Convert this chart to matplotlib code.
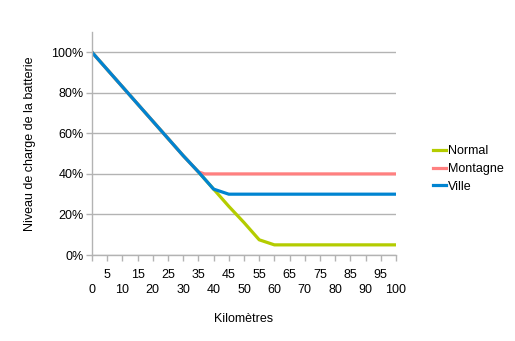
import matplotlib
matplotlib.use("Agg")
import matplotlib.pyplot as plt
from matplotlib.ticker import FixedLocator, PercentFormatter

# battery level (%) against distance (km)
km_normal = [0, 5, 10, 15, 20, 25, 30, 35, 40, 45, 50, 55, 60, 65, 70, 75, 80, 85, 90, 95, 100]
normal = [100, 91.5, 83, 74.5, 66, 57.5, 49, 41, 32.5, 24, 16, 7.5, 5, 5, 5, 5, 5, 5, 5, 5, 5]

km_montagne = [0, 5, 10, 15, 20, 25, 30, 35, 37, 40, 45, 50, 55, 60, 65, 70, 75, 80, 85, 90, 95, 100]
montagne = [100, 91.5, 83, 74.5, 66, 57.5, 49, 41, 40, 40, 40, 40, 40, 40, 40, 40, 40, 40, 40, 40, 40, 40]

km_ville = [0, 5, 10, 15, 20, 25, 30, 35, 40, 45, 50, 55, 60, 65, 70, 75, 80, 85, 90, 95, 100]
ville = [100, 91.5, 83, 74.5, 66, 57.5, 49, 41, 32.5, 30, 30, 30, 30, 30, 30, 30, 30, 30, 30, 30, 30]

y_ticks = [0, 20, 40, 60, 80, 100]
x_ticks_low = [0, 10, 20, 30, 40, 50, 60, 70, 80, 90, 100]
x_ticks_high = [5, 15, 25, 35, 45, 55, 65, 75, 85, 95]

plt.rcParams["font.family"] = ["Liberation Sans", "DejaVu Sans"]
plt.rcParams["font.size"] = 9

GRID = "#b3b3b3"

fig = plt.figure(figsize=(5.15, 3.41), dpi=100)
ax = fig.add_axes([92 / 515, 1 - 255 / 341, 304 / 515, 223 / 341])

ax.plot(km_normal, normal, color="#b4cc00", lw=2.3, label="Normal")
ax.plot(km_montagne, montagne, color="#ff8080", lw=2.3, label="Montagne")
ax.plot(km_ville, ville, color="#0084d1", lw=2.3, label="Ville")

ax.set_xlim(0, 100)
ax.set_ylim(0, 110)

ax.yaxis.set_major_locator(FixedLocator(y_ticks))
ax.yaxis.set_major_formatter(PercentFormatter(decimals=0))
ax.grid(axis="y", color=GRID, lw=1)
ax.set_axisbelow(True)

# staggered x labels: multiples of 10 on the lower row
ax.xaxis.set_major_locator(FixedLocator(x_ticks_low))
ax.xaxis.set_minor_locator(FixedLocator(x_ticks_high))
ax.set_xticklabels([str(v) for v in x_ticks_low])
ax.set_xticklabels([str(v) for v in x_ticks_high], minor=True)
ax.tick_params(axis="x", which="major", length=4, width=1, color=GRID, pad=17)
ax.tick_params(axis="x", which="minor", length=4, width=1, color=GRID, pad=6)
ax.tick_params(axis="y", length=4, width=1, color=GRID, pad=2)

for side in ("top", "right"):
    ax.spines[side].set_visible(False)
for side in ("left", "bottom"):
    ax.spines[side].set_color(GRID)
    ax.spines[side].set_linewidth(1)

ax.set_xlabel("Kilomètres", labelpad=12)
ax.set_ylabel("Niveau de charge de la batterie", labelpad=11)

fig.legend(loc="center left", bbox_to_anchor=(427 / 515, 1 - 169 / 341),
           frameon=False, handlelength=1.0, handletextpad=0.2,
           labelspacing=0.45, borderpad=0)

fig.savefig("out.png", dpi=100)
